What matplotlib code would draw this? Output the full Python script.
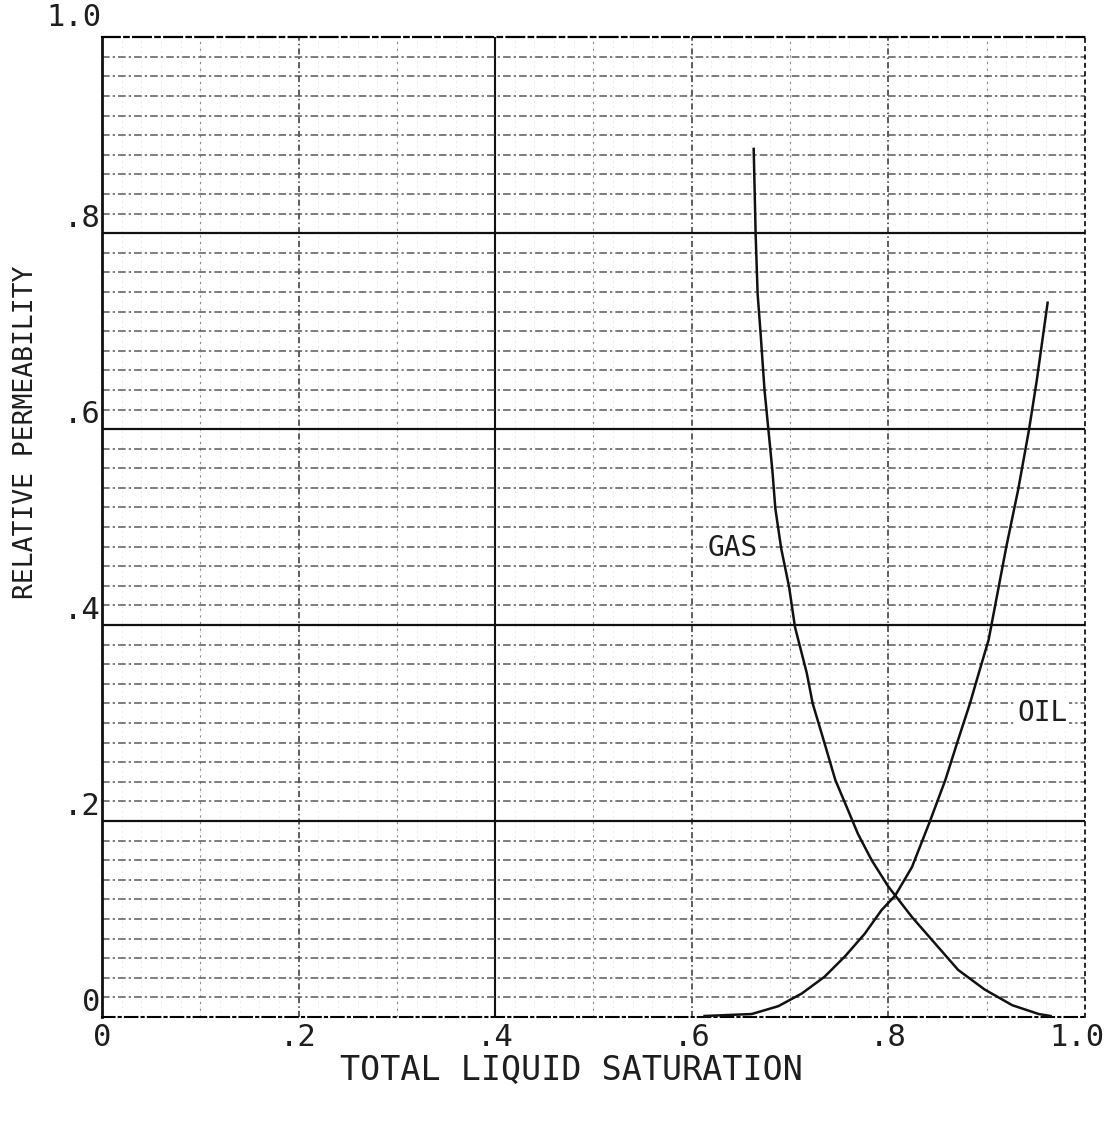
import matplotlib.pyplot as plt
from matplotlib.transforms import ScaledTranslation
import numpy as np

# relative permeability curves
gas_sat = [0.663, 0.665, 0.667, 0.670, 0.674, 0.678, 0.682, 0.685, 0.691, 0.699,
           0.705, 0.717, 0.723, 0.734, 0.746, 0.759, 0.769, 0.783, 0.800,
           0.807, 0.824, 0.844, 0.871, 0.898, 0.926, 0.953, 0.965]
gas_kr = [0.886, 0.798, 0.738, 0.698, 0.640, 0.599, 0.558, 0.519, 0.478, 0.439,
          0.398, 0.351, 0.320, 0.283, 0.242, 0.211, 0.187, 0.160, 0.133,
          0.124, 0.102, 0.079, 0.048, 0.028, 0.012, 0.003, 0.001]

oil_sat = [0.613, 0.661, 0.688, 0.712, 0.735, 0.756, 0.776, 0.793, 0.807, 0.824,
           0.842, 0.858, 0.871, 0.883, 0.892, 0.902, 0.920, 0.932, 0.943,
           0.946, 0.951, 0.962]
oil_kr = [0.001, 0.003, 0.011, 0.024, 0.041, 0.062, 0.085, 0.109, 0.124, 0.153,
          0.199, 0.242, 0.283, 0.320, 0.351, 0.385, 0.480, 0.538, 0.599,
          0.618, 0.650, 0.729]

x_ticks = [0, 0.2, 0.4, 0.6, 0.8, 1.0]
x_tick_labels = ['0', '.2', '.4', '.6', '.8', '1.0']
y_ticks = [0, 0.2, 0.4, 0.6, 0.8]
y_tick_labels = ['0', '.2', '.4', '.6', '.8']

FONT = 'DejaVu Sans Mono'
INK = '#1e1e1e'

fig = plt.figure(figsize=(11.07, 11.21), dpi=100)
ax = fig.add_axes([0.0921, 0.0928, 0.888, 0.874])
ax.set_xlim(0, 1.0)
ax.set_ylim(0, 1.0)

# graph paper: fine horizontal rules every .02, heavy every .2
for y in np.arange(0.02, 1.0, 0.02):
    if abs(y / 0.2 - round(y / 0.2)) < 1e-6:
        ax.axhline(y, color='#111111', lw=1.6, zorder=1)
    else:
        ax.axhline(y, color='#5a5a5a', lw=1.1, ls=(0, (5, 2, 1.5, 2)), zorder=1)

# vertical rules: faint every .02, dotted every .1, heavier every .2
for x in np.arange(0.02, 1.0, 0.02):
    ax.axvline(x, color='#cccccc', lw=0.6, ls=(0, (1, 5)), zorder=0.5)
for x in [0.1, 0.3, 0.5, 0.7, 0.9]:
    ax.axvline(x, color='#8c8c8c', lw=0.8, ls=(0, (2, 4)), zorder=0.6)
for x in [0.2, 0.6, 0.8]:
    ax.axvline(x, color='#333333', lw=1.1, ls=(0, (4, 2, 1, 2)), zorder=0.7)
ax.axvline(0.4, color='#111111', lw=1.5, zorder=0.7)

ax.spines['left'].set_linewidth(2.0)
ax.spines['left'].set_color('#111111')
ax.spines['top'].set_linewidth(1.6)
ax.spines['top'].set_linestyle((0, (8, 2, 2, 2)))
ax.spines['bottom'].set_linewidth(1.5)
ax.spines['bottom'].set_linestyle((0, (6, 2, 1, 2)))
ax.spines['right'].set_linewidth(1.2)
ax.spines['right'].set_linestyle((0, (2, 3)))
for s in ax.spines.values():
    s.set_zorder(2)

# curves
ax.plot(gas_sat, gas_kr, color='#111111', lw=1.8, zorder=3,
        solid_joinstyle='round')
ax.plot(oil_sat, oil_kr, color='#111111', lw=1.8, zorder=3,
        solid_joinstyle='round')

ax.text(0.642, 0.479, 'GAS', family=FONT, fontsize=20, color=INK,
        ha='center', va='center', zorder=4,
        bbox=dict(facecolor='white', edgecolor='none', pad=1))
ax.text(0.957, 0.310, 'OIL', family=FONT, fontsize=20, color=INK,
        ha='center', va='center', zorder=4,
        bbox=dict(facecolor='white', edgecolor='none', pad=1))

# ticks
ax.set_xticks(x_ticks)
ax.set_xticklabels(x_tick_labels, family=FONT, fontsize=22, color=INK)
ax.set_yticks(y_ticks)
ax.set_yticklabels(y_tick_labels, family=FONT, fontsize=22, color=INK, va='bottom')
ax.tick_params(axis='both', length=0)
ax.tick_params(axis='x', pad=4)
ax.tick_params(axis='y', pad=1)

# keep the last x label inside the figure edge
last = ax.get_xticklabels()[-1]
last.set_ha('right')
last.set_transform(last.get_transform() +
                   ScaledTranslation(0.20, 0, fig.dpi_scale_trans))

ax.text(0.0, 1.005, '1.0', transform=ax.transAxes, family=FONT, fontsize=22,
        color=INK, ha='right', va='bottom')

fig.text(26 / 1107, 1 - 432 / 1121, 'RELATIVE PERMEABILITY', family=FONT,
         fontsize=19, color=INK, rotation=90, ha='center', va='center')
fig.text(571 / 1107, 1 - 1071 / 1121, 'TOTAL LIQUID SATURATION', family=FONT,
         fontsize=24, color=INK, ha='center', va='center')

fig.savefig('out.png', dpi=100, facecolor='white')
